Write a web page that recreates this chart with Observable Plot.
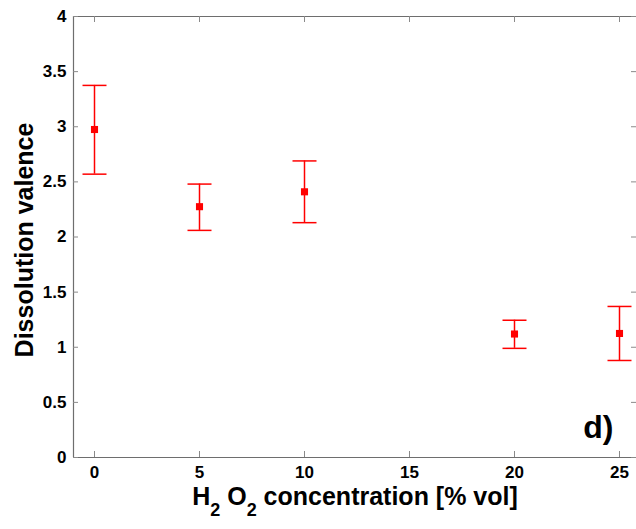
<!DOCTYPE html>
<html><head><meta charset="utf-8">
<script src="https://cdn.jsdelivr.net/npm/d3@7"></script>
<script src="https://cdn.jsdelivr.net/npm/@observablehq/plot@0.6"></script>
<style>body{margin:0;background:#fff} #chart{width:636px;height:529px}</style>
</head><body><div id="chart"></div>
<script>
const concentrations = [0, 5, 10, 20, 25];
const valence = [2.975, 2.275, 2.41, 1.12, 1.125];
const errLow = [2.57, 2.06, 2.13, 0.99, 0.88];
const errHigh = [3.375, 2.48, 2.69, 1.245, 1.37];
const xTicks = [0, 5, 10, 15, 20, 25];
const yTicks = [0, 0.5, 1, 1.5, 2, 2.5, 3, 3.5, 4];
const yTickLabels = ["0", "0.5", "1", "1.5", "2", "2.5", "3", "3.5", "4"];
const yLabel = "Dissolution valence";
const xLabelParts = [["H", false], ["2", true], [" O", false], ["2", true], [" concentration [% vol]", false]];
const panelLabel = "d)";

const data = concentrations.map((c, i) => ({c, v: valence[i], lo: errLow[i], hi: errHigh[i]}));

const W = 636, H = 529, mL = 73, mR = 0, mT = 16, mB = 72;
const pw = W - mL - mR, ph = H - mT - mB;
const capSymbol = {draw(ctx) { ctx.moveTo(-12, 0); ctx.lineTo(12, 0); }};
const red = "#ff0000";
const frameColor = "#6e6e6e";
const tickColor = "#8a8a8a";

const svg = Plot.plot({
  width: W, height: H,
  marginLeft: mL, marginRight: mR, marginTop: mT, marginBottom: mB,
  x: {domain: [-1, (W - mR - mL) / 21 - 1]},
  y: {domain: [0, 4]},
  style: {fontFamily: "'Liberation Sans', Arial, sans-serif", fontWeight: "bold", color: "#000", background: "#fff"},
  marks: [
    Plot.ruleY([0], {stroke: frameColor, strokeWidth: 1.2}),
    Plot.ruleY([4], {stroke: frameColor, strokeWidth: 1.2}),
    Plot.ruleX([-1], {stroke: frameColor, strokeWidth: 1.2}),
    Plot.tickY(yTicks, {y: d => d, insetRight: pw - 5, stroke: tickColor}),
    Plot.tickY(yTicks, {y: d => d, insetLeft: pw - 5, stroke: tickColor}),
    Plot.tickX(xTicks, {x: d => d, insetTop: ph - 6, stroke: tickColor}),
    Plot.tickX(xTicks, {x: d => d, insetBottom: ph - 6, stroke: tickColor}),
    Plot.axisX(xTicks, {tickSize: 0, tickPadding: 8, fontSize: 17, label: null}),
    Plot.axisY(yTicks, {tickSize: 0, tickPadding: 7, fontSize: 17, label: null,
      tickFormat: d => yTickLabels[yTicks.indexOf(d)]}),
    Plot.ruleX(data, {x: "c", y1: "lo", y2: "hi", stroke: red, strokeWidth: 1.5}),
    Plot.dot(data, {x: "c", y: "hi", symbol: capSymbol, stroke: red, strokeWidth: 1.5}),
    Plot.dot(data, {x: "c", y: "lo", symbol: capSymbol, stroke: red, strokeWidth: 1.5}),
    Plot.dot(data, {x: "c", y: "v", symbol: "square", r: 4, fill: red, stroke: "none"}),
    Plot.text([panelLabel], {frameAnchor: "bottom-right", text: d => d, textAnchor: "end", lineAnchor: "bottom",
      dx: -23, dy: -20, fontSize: 32, fontWeight: "bold"})
  ]
});

const s = d3.select(svg);
s.append("text")
  .attr("transform", "translate(33,240) rotate(-90)")
  .attr("text-anchor", "middle")
  .attr("font-size", 25)
  .attr("font-weight", "bold")
  .attr("fill", "#000")
  .text(yLabel);

const xl = s.append("text")
  .attr("x", 355).attr("y", 505)
  .attr("text-anchor", "middle")
  .attr("font-size", 25)
  .attr("font-weight", "bold")
  .attr("fill", "#000")
  .style("white-space", "pre");
let prevSub = false;
for (const [t, sub] of xLabelParts) {
  const ts = xl.append("tspan").text(t);
  if (sub && !prevSub) ts.attr("dy", 11).attr("font-size", 18);
  if (!sub && prevSub) ts.attr("dy", -11);
  prevSub = sub;
}
document.getElementById("chart").appendChild(svg);
</script>
</body></html>
